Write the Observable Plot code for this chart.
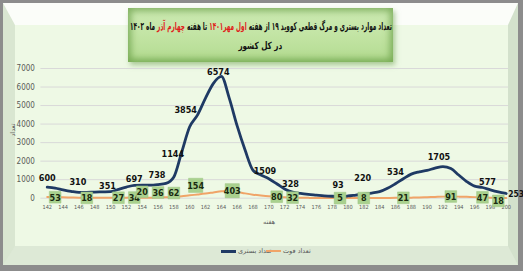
<!DOCTYPE html>
<html><head><meta charset="utf-8">
<script src="https://cdn.jsdelivr.net/npm/d3@7"></script>
<script src="https://cdn.jsdelivr.net/npm/@observablehq/plot@0.6"></script>
<style>
html,body{margin:0;padding:0;}
body{width:523px;height:271px;background:#8c8c8c;position:relative;overflow:hidden;}
#frame{position:absolute;left:3px;top:3px;width:493px;height:221px;
  border-top:22px solid #fbfdf9;border-left:12px solid #d9e6d1;border-right:10px solid #d3e1cc;border-bottom:19px solid #dde9d6;
  background:#eef9e5;}
#titlebox{position:absolute;left:128px;top:8px;width:265px;height:54px;
  background:linear-gradient(180deg,#cdeab3 0%,#c4e5a6 45%,#b3db90 100%);
  box-shadow:inset 0 0 7px 3px rgba(80,140,45,0.6), 2px 3px 5px rgba(110,160,80,0.55);
  font-family:"DejaVu Sans",sans-serif;font-weight:bold;color:#111;}
.tl{position:absolute;left:0;width:100%;height:14px;display:flex;justify-content:center;align-items:center;}
.tl span.in{display:inline-block;flex:none;white-space:nowrap;direction:rtl;line-height:1;transform-origin:50% 50%;}
.red{color:#e0201a;}
#chart{position:absolute;left:0;top:55px;}
.ax{position:absolute;font-family:"DejaVu Sans",sans-serif;font-size:6.5px;color:#595959;direction:rtl;white-space:nowrap;}
#legend{position:absolute;top:246px;left:0;width:523px;height:10px;font-family:"DejaVu Sans",sans-serif;font-size:6.5px;color:#595959;}
.lg{position:absolute;top:0;display:flex;align-items:center;height:10px;}
.sw{display:inline-block;width:15px;height:0;margin-right:2px;}
</style></head>
<body>
<div id="frame"></div>
<div id="titlebox">
  <div class="tl" style="top:11px;font-size:11px;"><span class="in" id="t1">تعداد موارد بستری و مرگ قطعی کووید ۱۹ از هفته <span class="red">اول مهر۱۴۰۱</span> تا هفته <span class="red">چهارم آذر</span> ماه ۱۴۰۲</span></div>
  <div class="tl" style="top:31px;font-size:10px;"><span class="in" id="t2">در کل کشور</span></div>
</div>
<div id="chart"></div>
<div class="ax" id="ytitle" style="left:6px;top:126px;transform:rotate(-90deg);">تعداد</div>
<div class="ax" id="xtitle" style="left:263px;top:218px;">هفته</div>
<div id="legend">
  <div class="lg" style="left:221px;"><span class="sw" style="border-top:3px solid #1f3a64;"></span><span style="direction:rtl">تعداد بستری</span></div>
  <div class="lg" style="left:266px;"><span class="sw" style="border-top:2px solid #f0a468;"></span><span style="direction:rtl">تعداد فوت</span></div>
</div>
<script>
const weeks = [142,143,144,145,146,147,148,149,150,151,152,153,154,155,156,157,158,159,160,161,162,163,164,165,166,167,168,169,170,171,172,173,174,175,176,177,178,179,180,181,182,183,184,185,186,187,188,189,190,191,192,193,194,195,196,197,198,199,200];
const hospitalized = [600,540,450,370,310,315,330,340,351,480,600,697,710,705,738,800,1144,2500,3854,4500,5400,6200,6574,5400,3900,2600,1509,1250,1050,780,500,328,260,210,170,130,105,93,120,170,220,280,350,534,780,1050,1300,1420,1500,1620,1705,1600,1250,900,650,577,450,340,253];
const deaths = [60,53,45,35,25,18,20,22,25,27,30,34,20,28,36,48,62,100,154,200,250,310,370,403,340,260,190,140,100,80,50,32,25,18,12,9,7,5,5,6,8,10,13,16,19,21,30,40,55,70,85,91,85,72,58,47,30,18,15];
const hospLabelWeeks = [142,146,150,153,156,158,160,164,168,173,179,182,185,192,197,200];
const deathLabelWeeks = [143,147,151,153,154,156,158,160,165,171,173,179,182,187,193,197,199];
const xTicks = [142,144,146,148,150,152,154,156,158,160,162,164,166,168,170,172,174,176,178,180,182,184,186,188,190,192,194,196,198,200];
const yTicks = [0,1000,2000,3000,4000,5000,6000,7000];

const rows = weeks.map((w,i)=>({week:w, hosp:hospitalized[i], deaths:deaths[i]}));
const byWeek = new Map(rows.map(r=>[r.week,r]));

// label offsets (style only)
const hospOff = {142:[0,-9],146:[-1,-10],150:[-3,-6],153:[0,-6],156:[-1,-9],158:[-1,-23],160:[-4,-17],164:[-3,-4],168:[12,1],173:[-2,-8],179:[-2,-11],182:[-1,-16],185:[8,-16],192:[-4,-9],197:[5,-5]};
const deathOff = {154:[0,-6],156:[0,-5],158:[0,-4],160:[6,-10],165:[3,0],199:[0,3]};

const fontNum = "'Liberation Sans Narrow','DejaVu Sans Condensed','Liberation Sans',sans-serif";
const marks = [
  Plot.gridY(yTicks, {stroke:"#d9d9d9", strokeOpacity:1}),
  Plot.axisY(yTicks, {tickSize:0, tickPadding:6, fontSize:8, fill:"#595959", label:null, tickFormat:d=>String(d)}),
  Plot.axisX(xTicks, {tickSize:0, tickPadding:7, fontSize:5.6, fill:"#595959", label:null, tickFormat:d=>String(d)}),
  Plot.line(rows, {x:"week", y:"deaths", curve:"monotone-x", stroke:"#f0a468", strokeWidth:2}),
  Plot.line(rows, {x:"week", y:"hosp", curve:"monotone-x", stroke:"#1f3a64", strokeWidth:2.8})
];
for (const w of hospLabelWeeks) {
  const r = byWeek.get(w);
  if (w === 200) {
    marks.push(Plot.text([r], {x:"week", y:"hosp", text:d=>String(d.hosp), dx:2, dy:1, textAnchor:"start", fontSize:8.5, fontWeight:"bold", fill:"#111", fontFamily:fontNum}));
    continue;
  }
  const o = hospOff[w] || [0,-9];
  marks.push(Plot.text([r], {x:"week", y:"hosp", text:d=>String(d.hosp), dx:o[0], dy:o[1], fontSize:9, fontWeight:"bold", fill:"#111", fontFamily:fontNum}));
}
for (const w of deathLabelWeeks) {
  const r = byWeek.get(w); const o = deathOff[w] || [0,0];
  const digits = String(r.deaths).length;
  marks.push(Plot.dot([r], {x:"week", y:"deaths", symbol:"square", r: digits>=3?8:6.6, fill:"#a9d18e", stroke:"#9cc482", strokeWidth:0.5, dx:o[0], dy:o[1]}));
  marks.push(Plot.text([r], {x:"week", y:"deaths", text:d=>String(d.deaths), dx:o[0], dy:o[1]+0.5, fontSize:9, fontWeight:"bold", fill:"#1a2a10", fontFamily:fontNum}));
}
const chart = Plot.plot({
  width:523, height:175,
  marginTop:13, marginBottom:32.3, marginLeft:40.4, marginRight:14.9,
  style:{background:"transparent", fontFamily:fontNum, overflow:"visible"},
  x:{type:"linear", domain:[141.2,200.3]},
  y:{domain:[0,7000]},
  marks
});
document.getElementById("chart").append(chart);

// fit title lines to reference widths (centered in the title box)
function fit(id, w){ const el=document.getElementById(id); const cw=el.offsetWidth; el.style.transform=`scaleX(${w/cw})`; }
fit("t1", 262); fit("t2", 44);
</script>
</body></html>
